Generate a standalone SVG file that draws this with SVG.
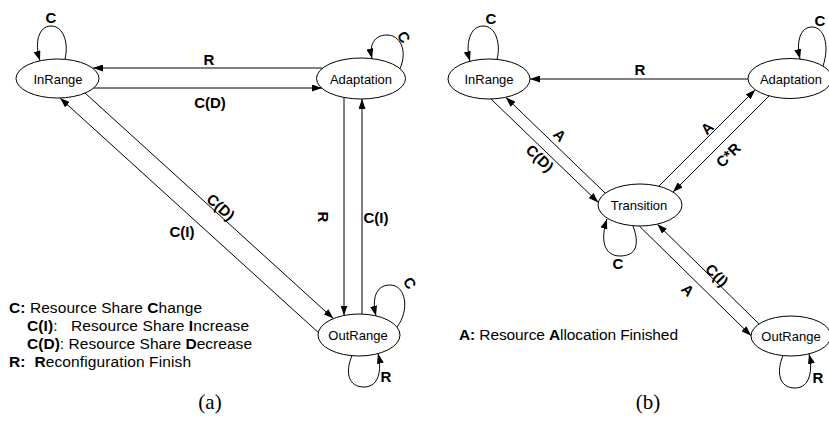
<svg xmlns="http://www.w3.org/2000/svg" width="829" height="427" viewBox="0 0 829 427">
<defs>
<marker id="ah" viewBox="0 0 10 7" refX="10" refY="3.5" markerWidth="10" markerHeight="7" orient="auto" markerUnits="userSpaceOnUse">
<path d="M0,0 L10,3.5 L0,7 z" fill="#000"/>
</marker>
<style>
.node ellipse{fill:#fff;stroke:#000;stroke-width:1}
.node text{font-family:"Liberation Sans",Arial,sans-serif;font-size:13px;text-anchor:middle;fill:#000}
.edge{fill:none;stroke:#000;stroke-width:1;marker-end:url(#ah)}
.lbl{font-family:"Liberation Sans",Arial,sans-serif;font-size:15px;font-weight:bold;text-anchor:middle;fill:#000}
.leg{font-family:"Liberation Sans",Arial,sans-serif;font-size:15.5px;fill:#000;white-space:pre}
.b{font-weight:bold}
.cap{font-family:"Liberation Serif","Times New Roman",serif;font-size:21px;text-anchor:middle;fill:#000}
</style>
</defs>
<rect width="829" height="427" fill="#fff"/>

<g id="connectors">
<!-- panel a -->
<path class="edge" d="M322,68 L93,68"/>
<path class="edge" d="M93,88 L322,88"/>
<path class="edge" d="M318.3,332.5 L60,98"/>
<path class="edge" d="M85,93 L333.4,318.6"/>
<path class="edge" d="M344,97.4 L344,315.5"/>
<path class="edge" d="M362,314.1 L362,99"/>
<path class="edge" d="M65,59.3 C69,42 63,26 51,26 C39,26 34,42 40,60.8"/>
<path class="edge" d="M400,68.6 C408,50 400,35 387,35 C374,35 369,45 372,58.6"/>
<path class="edge" d="M397,327 C410,310 406,285 390,285 C375,285 372,300 376,315.9"/>
<path class="edge" d="M352,355.7 C345,372 348,387 364,387 C379,387 382,370 378,353.6"/>
<!-- panel b -->
<path class="edge" d="M748,79 L530,79"/>
<path class="edge" d="M605.1,193 L505.8,97.3"/>
<path class="edge" d="M491,99 L598.3,202.4"/>
<path class="edge" d="M658.8,186.2 L755.2,89.8"/>
<path class="edge" d="M769.2,95.8 L673,192"/>
<path class="edge" d="M759.1,324 L657.4,224.2"/>
<path class="edge" d="M639.2,225.9 L751.1,335.7"/>
<path class="edge" d="M497,59.6 C501,44 496,26 483,26 C470,26 465,44 470,61.3"/>
<path class="edge" d="M823,66 C830,45 824,27 812,27 C800,27 796,42 800,59.1"/>
<path class="edge" d="M633,225.8 C640,245 636,256 620,256 C604,256 600,240 607,219"/>
<path class="edge" d="M783,355.6 C776,372 779,388 795,388 C810,388 813,370 809,354"/>
</g>

<g id="edge-labels">
<text class="lbl" x="209" y="65">R</text>
<text class="lbl" x="210" y="108">C(D)</text>
<text class="lbl" transform="translate(221,207) rotate(42)" x="0" y="5.5">C(D)</text>
<text class="lbl" x="182" y="237">C(I)</text>
<text class="lbl" transform="translate(323,217) rotate(90)" x="0" y="5.5">R</text>
<text class="lbl" x="376" y="223">C(I)</text>
<text class="lbl" x="51" y="23">C</text>
<text class="lbl" transform="translate(404,37) rotate(60)" x="0" y="5.5">C</text>
<text class="lbl" transform="translate(410,283) rotate(60)" x="0" y="5.5">C</text>
<text class="lbl" x="386" y="382">R</text>

<text class="lbl" x="640" y="75">R</text>
<text class="lbl" transform="translate(560,135) rotate(44)" x="0" y="5.5">A</text>
<text class="lbl" transform="translate(540,158) rotate(44)" x="0" y="5.5">C(D)</text>
<text class="lbl" transform="translate(707,128) rotate(-45)" x="0" y="5.5">A</text>
<text class="lbl" transform="translate(728,155) rotate(-45)" x="0" y="5.5">C*R</text>
<text class="lbl" transform="translate(717,275) rotate(45)" x="0" y="5.5">C(I)</text>
<text class="lbl" transform="translate(688,290) rotate(45)" x="0" y="5.5">A</text>
<text class="lbl" x="491" y="23.5">C</text>
<text class="lbl" x="820" y="26">C</text>
<text class="lbl" x="618" y="269">C</text>
<text class="lbl" x="818" y="383">R</text>
</g>

<g id="a-inrange" class="node"><ellipse cx="57.5" cy="78.5" rx="41.5" ry="19.5"/><text x="58" y="83.5">InRange</text></g>
<g id="a-adaptation" class="node"><ellipse cx="361" cy="78.5" rx="44.5" ry="20.5"/><text x="361" y="83.5">Adaptation</text></g>
<g id="a-outrange" class="node"><ellipse cx="359" cy="335" rx="41" ry="21"/><text x="358" y="339.5">OutRange</text></g>

<g id="b-inrange" class="node"><ellipse cx="489" cy="79" rx="41" ry="20"/><text x="489" y="83.5">InRange</text></g>
<g id="b-adaptation" class="node"><ellipse cx="790" cy="78.5" rx="42" ry="20"/><text x="791" y="83.5">Adaptation</text></g>
<g id="b-transition" class="node"><ellipse cx="640" cy="205" rx="42" ry="21"/><text x="639" y="209.5">Transition</text></g>
<g id="b-outrange" class="node"><ellipse cx="791" cy="336" rx="40" ry="20"/><text x="791" y="340.5">OutRange</text></g>

<g id="legend-a">
<text class="leg" x="9" y="313" textLength="193" lengthAdjust="spacing"><tspan class="b">C:</tspan> Resource Share <tspan class="b">C</tspan>hange</text>
<text class="leg" x="27" y="331" textLength="222" lengthAdjust="spacing"><tspan class="b">C(I)</tspan>:   Resource Share <tspan class="b">I</tspan>ncrease</text>
<text class="leg" x="27" y="349" textLength="225" lengthAdjust="spacing"><tspan class="b">C(D)</tspan>: Resource Share <tspan class="b">D</tspan>ecrease</text>
<text class="leg" x="9" y="367" textLength="182" lengthAdjust="spacing"><tspan class="b">R:</tspan>  <tspan class="b">R</tspan>econfiguration Finish</text>
</g>
<g id="legend-b">
<text class="leg" x="459" y="340" textLength="219" lengthAdjust="spacing"><tspan class="b">A:</tspan> Resource <tspan class="b">A</tspan>llocation Finished</text>
</g>
<text class="cap" x="210" y="409">(a)</text>
<text class="cap" x="648" y="409">(b)</text>
</svg>
